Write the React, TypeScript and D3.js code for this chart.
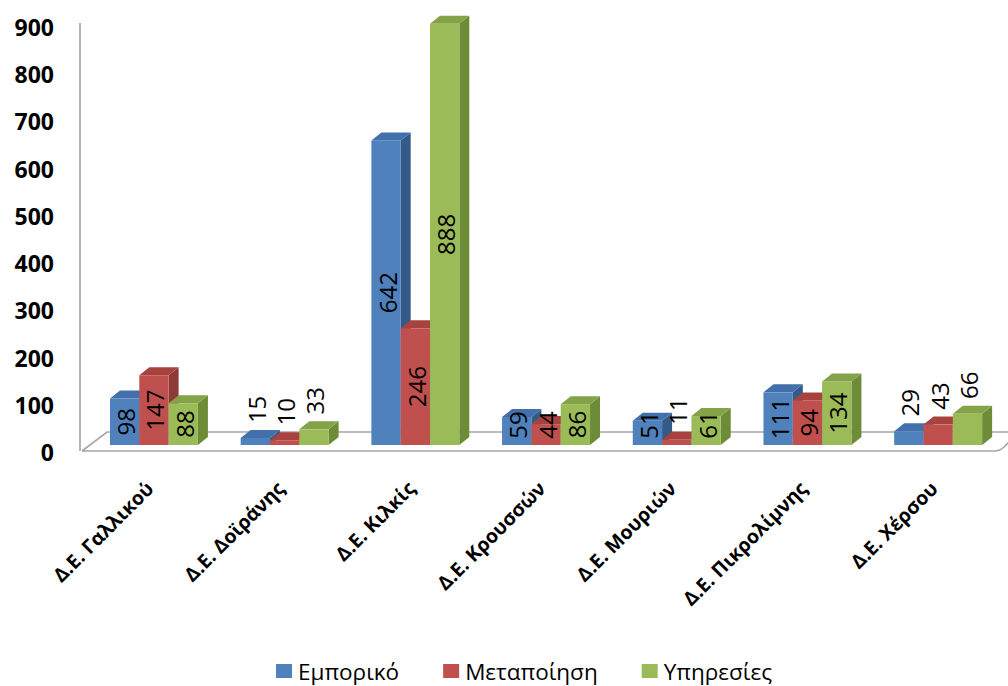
import React, { useEffect, useRef } from 'react';
import * as d3 from 'd3';

const categories = [
  'Δ.Ε. Γαλλικού',
  'Δ.Ε. Δοϊράνης',
  'Δ.Ε. Κιλκίς',
  'Δ.Ε. Κρουσσών',
  'Δ.Ε. Μουριών',
  'Δ.Ε. Πικρολίμνης',
  'Δ.Ε. Χέρσου',
];
const seriesNames = ['Εμπορικό', 'Μεταποίηση', 'Υπηρεσίες'];
const emporiko = [98, 15, 642, 59, 51, 111, 29];
const metapoiisi = [147, 10, 246, 44, 11, 94, 43];
const ypiresies = [88, 33, 888, 86, 61, 134, 66];
const yTicks = [0, 100, 200, 300, 400, 500, 600, 700, 800, 900];

// label placement (style): true = label sits above the bar
const labelAboveEmporiko = [false, true, false, false, false, false, true];
const labelAboveMetapoiisi = [false, true, false, false, true, false, true];
const labelAboveYpiresies = [false, true, false, false, false, false, true];

const frontColors = ['#4F81BD', '#C0504D', '#9BBB59'];
const topColors = ['#4170AA', '#A8423F', '#84A348'];
const sideColors = ['#355A88', '#8E3A38', '#6D8C37'];

const W = 1008;
const H = 686;
const DX = 10;
const DY = -8;

export default function App() {
  const ref = useRef<SVGSVGElement | null>(null);

  useEffect(() => {
    const svg = d3.select(ref.current);
    svg.selectAll('*').remove();

    const seriesValues = [emporiko, metapoiisi, ypiresies];
    const labelAbove = [labelAboveEmporiko, labelAboveMetapoiisi, labelAboveYpiresies];

    const y = d3.scaleLinear().domain([0, 900]).range([445, 18]);
    const yLabel = d3.scaleLinear().domain([0, 900]).range([452, 27]);
    const x = d3
      .scaleBand<string>()
      .domain(categories)
      .range([88.6, 1003.5])
      .paddingInner(0.327)
      .paddingOuter(0.1635);
    const xs = d3
      .scaleBand<string>()
      .domain(seriesNames)
      .range([0, x.bandwidth()])
      .padding(0);

    // axis line
    svg
      .append('line')
      .attr('x1', 80)
      .attr('x2', 80)
      .attr('y1', 23)
      .attr('y2', 451)
      .attr('stroke', '#9a9a9a')
      .attr('stroke-width', 1.5);

    // floor
    const floor = d3.path();
    floor.moveTo(82, 451);
    floor.lineTo(107, 432);
    floor.lineTo(1030, 432);
    floor.moveTo(82, 451);
    floor.lineTo(994, 451);
    floor.quadraticCurveTo(1000, 451, 1004, 447);
    floor.lineTo(1019, 432);
    svg
      .append('path')
      .attr('d', floor.toString())
      .attr('fill', 'none')
      .attr('stroke', '#a6a6a6')
      .attr('stroke-width', 1.6);

    // y tick labels
    svg
      .append('g')
      .selectAll('text')
      .data(yTicks)
      .join('text')
      .attr('x', 54)
      .attr('y', (d) => yLabel(d))
      .attr('text-anchor', 'end')
      .attr('dominant-baseline', 'central')
      .attr('font-family', '"Open Sans", sans-serif')
      .attr('font-weight', 'bold')
      .attr('font-size', 23)
      .attr('fill', '#000')
      .text((d) => String(d));

    // bars
    const bars = svg.append('g');
    categories.forEach((cat, i) => {
      seriesNames.forEach((sName, s) => {
        const v = seriesValues[s][i];
        const x0 = (x(cat) as number) + (xs(sName) as number);
        const w = xs.bandwidth();
        const yt = y(v);
        const yb = y(0);
        const g = bars.append('g');
        g.append('polygon')
          .attr(
            'points',
            [
              [x0 + w, yt],
              [x0 + w + DX, yt + DY],
              [x0 + w + DX, yb + DY],
              [x0 + w, yb],
            ]
              .map((p) => p.join(','))
              .join(' ')
          )
          .attr('fill', sideColors[s]);
        g.append('polygon')
          .attr(
            'points',
            [
              [x0, yt],
              [x0 + DX, yt + DY],
              [x0 + w + DX, yt + DY],
              [x0 + w, yt],
            ]
              .map((p) => p.join(','))
              .join(' ')
          )
          .attr('fill', topColors[s]);
        g.append('rect')
          .attr('x', x0)
          .attr('y', yt)
          .attr('width', w)
          .attr('height', yb - yt)
          .attr('fill', frontColors[s]);
      });
    });

    // data labels
    const labels = svg.append('g');
    categories.forEach((cat, i) => {
      seriesNames.forEach((sName, s) => {
        const v = seriesValues[s][i];
        const x0 = (x(cat) as number) + (xs(sName) as number);
        const w = xs.bandwidth();
        const yt = y(v);
        const yb = y(0);
        const txt = String(v);
        const len = txt.length * 13.5;
        let cy: number;
        if (labelAbove[s][i]) {
          cy = yt - 15 - len / 2;
        } else {
          cy = yb - Math.max((yb - yt) / 2, 20);
        }
        labels
          .append('text')
          .attr('transform', `translate(${x0 + w / 2 + 1},${cy}) rotate(-90)`)
          .attr('text-anchor', 'middle')
          .attr('dominant-baseline', 'central')
          .attr('font-family', '"Open Sans", sans-serif')
          .attr('font-size', 24)
          .attr('fill', '#000')
          .text(txt);
      });
    });

    // category labels
    svg
      .append('g')
      .selectAll('text')
      .data(categories)
      .join('text')
      .attr(
        'transform',
        (d) => `translate(${(x(d) as number) + x.bandwidth() / 2 + 1},${490}) rotate(-45)`
      )
      .attr('text-anchor', 'end')
      .attr('font-family', '"Open Sans", sans-serif')
      .attr('font-weight', 'bold')
      .attr('font-size', 19.5)
      .attr('fill', '#000')
      .text((d) => d);

    // legend
    const legend = svg.append('g');
    const items = legend
      .selectAll('g')
      .data(seriesNames)
      .join('g');
    items
      .append('rect')
      .attr('width', 16)
      .attr('height', 14)
      .attr('y', 664)
      .attr('fill', (_d, k) => frontColors[k]);
    const texts = items
      .append('text')
      .attr('x', 22)
      .attr('y', 680)
      .attr('font-family', '"Open Sans", sans-serif')
      .attr('font-size', 22.5)
      .attr('fill', '#000')
      .text((d) => d);
    const widths: number[] = [];
    texts.each(function () {
      widths.push((this as SVGTextElement).getComputedTextLength());
    });
    const gap = 44;
    const itemW = widths.map((tw) => 22 + tw);
    const total = d3.sum(itemW) + gap * (itemW.length - 1);
    let cursor = 524 - total / 2;
    items.attr('transform', (_d, k) => {
      const tx = cursor;
      cursor += itemW[k] + gap;
      return `translate(${tx},0)`;
    });
  }, []);

  return (
    <svg
      ref={ref}
      width={W}
      height={H}
      style={{ position: 'absolute', left: 0, top: 0, background: '#fff' }}
    />
  );
}
